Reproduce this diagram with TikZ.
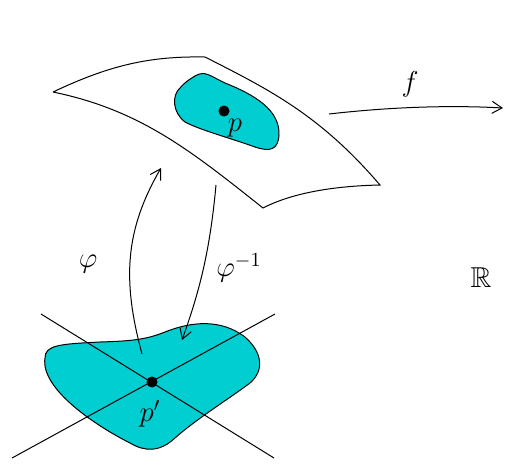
\documentclass[tikz,border=0pt]{standalone}
\usepackage{amssymb}
\usetikzlibrary{arrows.meta}
\definecolor{chartcyan}{RGB}{0,206,209}
\begin{document}
\begin{tikzpicture}[x=0.5pt, y=-0.5pt, line width=0.5pt,
    >={Straight Barb[length=5pt, width=6pt]},
    lbl/.style={font=\Large}]
    \useasboundingbox (0,0) rectangle (529,468);

    % --- Coins de la surface (vue en perspective) ---
    \coordinate (SL) at (53, 92);     % coin gauche
    \coordinate (ST) at (205, 57);    % coin haut
    \coordinate (SR) at (380, 185);   % coin droit
    \coordinate (SB) at (263, 208);   % coin bas

    % ==============================================================
    % 1. SURFACE ET VOISINAGE DE p
    % ==============================================================
    \draw (SL) .. controls (110, 65) and (150, 56) .. (ST)
          .. controls (270, 90) and (320, 115) .. (SR)
          .. controls (330, 186) and (290, 194) .. (SB)
          .. controls (190, 150) and (140, 110) .. (SL);

    \draw[fill=chartcyan] (195,76) .. controls (205,70) and (210,76) .. (225,83)
        .. controls (255,95) and (280,110) .. (279,135)
        .. controls (278,150) and (270,152) .. (255,147)
        .. controls (230,138) and (200,130) .. (185,122)
        .. controls (172,112) and (172,95) .. (180,88)
        .. controls (185,82) and (190,79) .. (195,76) -- cycle;

    \filldraw[fill=black] (224,111) circle (5);
    \node[lbl] (p) at (235,128) {$p$};

    % ==============================================================
    % 2. DOMAINE DE LA CARTE ET AXES
    % ==============================================================
    \draw[fill=chartcyan] (45,358) .. controls (45,345) and (60,344) .. (100,342)
        .. controls (130,341) and (145,340) .. (165,332)
        .. controls (190,322) and (220,318) .. (245,337)
        .. controls (262,352) and (265,370) .. (250,383)
        .. controls (230,398) and (195,420) .. (175,438)
        .. controls (160,452) and (145,452) .. (130,443)
        .. controls (100,428) and (40,390) .. (45,358) -- cycle;

    \draw (41,314) -- (274,458);
    \draw (12,458) -- (275,314);

    \filldraw[fill=black] (152,382) circle (5);
    \node[lbl] (pp) at (150,414) {$p'$};

    % ==============================================================
    % 3. APPLICATIONS phi, phi^{-1} ET f
    % ==============================================================
    \coordinate (PhiA) at (142,354);
    \coordinate (PhiB) at (161,168);
    \draw[->] (PhiA) .. controls (122,280) and (125,230) .. (PhiB);
    \node[lbl] (phi) at (88,264) {$\varphi$};

    \coordinate (InvA) at (216,185);
    \coordinate (InvB) at (182,340);
    \draw[->] (InvA) .. controls (210,250) and (200,290) .. (InvB);
    \node[lbl] (phiinv) at (239,268) {$\varphi^{-1}$};

    \coordinate (FA) at (329,114);
    \coordinate (FB) at (503,108);
    \draw[->] (FA) .. controls (390,107) and (450,105) .. (FB);
    \node[lbl] (f) at (410,84) {$f$};

    \node[lbl] (R) at (481,278) {$\mathbb{R}$};
\end{tikzpicture}
\end{document}
